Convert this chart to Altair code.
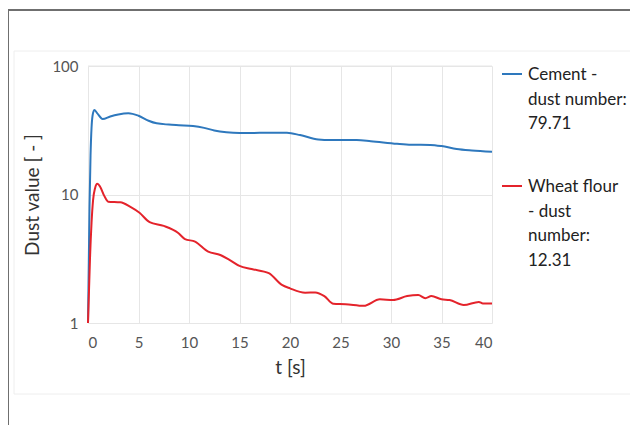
import altair as alt
import pandas as pd

cement_t = [0, 0.08, 0.15, 0.25, 0.35, 0.45, 0.62, 0.9, 1.45, 2.2, 3.0, 4.0, 5.0, 6.0, 6.8, 8.0, 9.0, 10.4, 11.5, 12.5, 13.7, 15.0, 16.0, 18.0, 19.7, 21.0, 22.8, 24.0, 26.6, 28.0, 30.6, 32.0, 33.9, 35.0, 36.5, 38.0, 40.0]
cement_v = [1, 3, 8, 20, 33, 41, 45.5, 43, 38.7, 40.5, 42, 42.9, 41, 37.5, 35.8, 35, 34.6, 34.1, 33, 31.5, 30.5, 30.1, 30.1, 30.3, 30.2, 29, 26.8, 26.5, 26.5, 26, 24.8, 24.4, 24.3, 23.8, 22.6, 22.0, 21.5]

flour_t = [0, 0.1, 0.2, 0.35, 0.5, 0.7, 0.92, 1.2, 1.6, 2.0, 3.2, 4.2, 5.1, 6.1, 7.5, 8.9, 9.6, 10.6, 11.9, 13.1, 14.0, 15.0, 16.2, 17.9, 19.2, 20.0, 21.5, 22.5, 23.4, 24.3, 25.5, 27.3, 28.9, 30.2, 31.6, 32.7, 33.4, 34.0, 35.0, 35.8, 37.2, 38.7, 39.1, 40.0]
flour_v = [1, 1.8, 3.2, 6, 9, 11.2, 12.1, 11.5, 9.8, 8.8, 8.7, 8.0, 7.2, 6.1, 5.7, 5.04, 4.5, 4.3, 3.59, 3.38, 3.1, 2.78, 2.63, 2.44, 1.98, 1.86, 1.72, 1.73, 1.62, 1.41, 1.4, 1.36, 1.53, 1.51, 1.62, 1.65, 1.56, 1.62, 1.53, 1.51, 1.38, 1.46, 1.42, 1.42]

series_names = ["Cement", "Wheat flour"]
legend_texts = ["Cement -\ndust number:\n79.71", "Wheat flour\n- dust\nnumber:\n12.31"]
colors = ["#2e78bd", "#e4232b"]
x_ticks = [0, 5, 10, 15, 20, 25, 30, 35, 40]
y_ticks = [1, 10, 100]

df = pd.concat([
    pd.DataFrame({"t": cement_t, "v": cement_v, "s": series_names[0]}),
    pd.DataFrame({"t": flour_t, "v": flour_v, "s": series_names[1]}),
])

W, H = 404, 257
FONT = "Lato"

base = alt.Chart(df)

lines = base.mark_line(strokeWidth=2, interpolate="monotone").encode(
    x=alt.X("t:Q", scale=alt.Scale(domain=[0, 40], nice=False),
            axis=alt.Axis(values=x_ticks, title="t [s]", grid=True, gridColor="#e6e6e6",
                          ticks=False, domain=False, labelFontSize=15, labelColor="#555555",
                          labelFont=FONT, labelPadding=12, titleFont=FONT, titleFontSize=19,
                          titleFontWeight="normal", titleColor="#333333", titlePadding=8)),
    y=alt.Y("v:Q", scale=alt.Scale(type="log", domain=[1, 100], nice=False),
            axis=alt.Axis(values=y_ticks, title="Dust value [ - ]", grid=True, gridColor="#e6e6e6",
                          ticks=False, domain=False, labelFontSize=15, labelColor="#555555",
                          labelFont=FONT, labelPadding=10, titleFont=FONT, titleFontSize=19,
                          titleFontWeight="normal", titleColor="#333333", titlePadding=9)),
    color=alt.Color("s:N", scale=alt.Scale(domain=series_names, range=colors), legend=None),
)

# frames
frame_df = pd.DataFrame({"k": [0]})
fr = alt.Chart(frame_df)
outer_left = fr.mark_rule(color="#6f6f6f", strokeWidth=2).encode(
    x=alt.value(-80), y=alt.value(-56), y2=alt.value(370))
outer_top = fr.mark_rule(color="#6f6f6f", strokeWidth=2).encode(
    x=alt.value(-80), x2=alt.value(560), y=alt.value(-56))
inner_left = fr.mark_rule(color="#eeeeee", strokeWidth=1).encode(
    x=alt.value(-74), y=alt.value(-15), y2=alt.value(328))
inner_top = fr.mark_rule(color="#eeeeee", strokeWidth=1).encode(
    x=alt.value(-74), x2=alt.value(560), y=alt.value(-15))
inner_bottom = fr.mark_rule(color="#eeeeee", strokeWidth=1).encode(
    x=alt.value(-74), x2=alt.value(560), y=alt.value(328))
top_border = fr.mark_rule(color="#e6e6e6", strokeWidth=1).encode(
    x=alt.value(0), x2=alt.value(W), y=alt.value(0))

# legend
leg_df = pd.DataFrame({"s": series_names, "label": legend_texts})
sym1 = alt.Chart(leg_df.iloc[[0]]).mark_rule(strokeWidth=2, color=colors[0]).encode(
    x=alt.value(414), x2=alt.value(434), y=alt.value(8))
sym2 = alt.Chart(leg_df.iloc[[1]]).mark_rule(strokeWidth=2, color=colors[1]).encode(
    x=alt.value(414), x2=alt.value(434), y=alt.value(120))
txt1 = alt.Chart(leg_df.iloc[[0]]).mark_text(align="left", baseline="alphabetic", lineBreak="\n",
                                             lineHeight=24.5, font=FONT, fontSize=17, color="#222222").encode(
    x=alt.value(440), y=alt.value(14), text="label:N")
txt2 = alt.Chart(leg_df.iloc[[1]]).mark_text(align="left", baseline="alphabetic", lineBreak="\n",
                                             lineHeight=24.5, font=FONT, fontSize=17, color="#222222").encode(
    x=alt.value(440), y=alt.value(126), text="label:N")

chart = alt.layer(
    inner_left, inner_top, inner_bottom, outer_left, outer_top, top_border,
    lines, sym1, sym2, txt1, txt2
).properties(
    width=W, height=H,
    autosize=alt.AutoSizeParams(type="none"),
    padding={"left": 80, "top": 58, "right": 138, "bottom": 102},
    background="white",
).configure_view(stroke=None)

chart.save("out.html", embed_options={"renderer": "svg", "actions": False})
